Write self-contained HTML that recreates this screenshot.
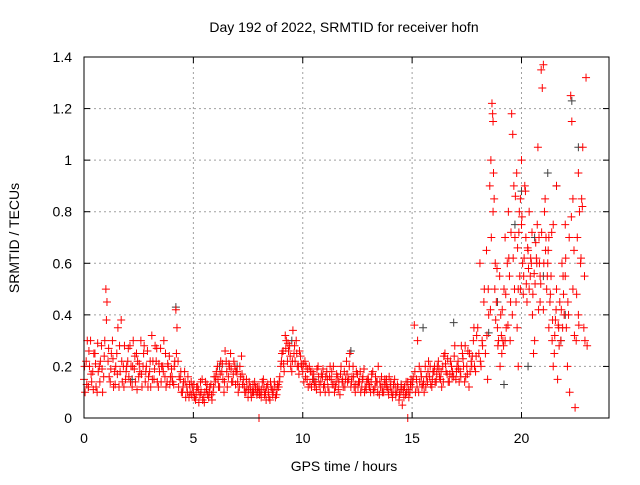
<!DOCTYPE html>
<html><head><meta charset="utf-8"><style>
body{margin:0;background:#fff}
svg{font-family:"Liberation Sans",sans-serif;font-size:14px}
</style></head><body>
<svg id="c" width="640" height="480">
<text x="344" y="32" text-anchor="middle">Day 192 of 2022, SRMTID for receiver hofn</text>
<text x="344" y="471" text-anchor="middle">GPS time / hours</text>
<text transform="translate(19,238) rotate(-90)" text-anchor="middle">SRMTID / TECUs</text>
<g id="grid"></g><g id="ticks"></g><g id="gray"></g><g id="red"></g>
<rect x="84" y="57" width="525" height="361" fill="none" stroke="#000" stroke-width="1"/>
</svg>
<script>
const xTicks=[0,5,10,15,20];
const yTicks=[0,0.2,0.4,0.6,0.8,1,1.2,1.4];
const yTickLabels=["0","0.2","0.4","0.6","0.8","1","1.2","1.4"];
const passA=[.15,.22,.12,.3,.18,.25,.1,.2,.28,.16,.5,.22,.14,.3,.18,.25,.12,.38,.2,.15,.22,.28,.12,.19,.25,.16,.3,.2,.14,.26,.18,.32,.15,.22,.12,.27,.2,.16,.14,.24,.19,.13,.42,.22,.15,.1,.18,.12,.08,.14,.1,.07,.12,.09,.15,.06,.11,.08,.13,.1,.14,.2,.12,.18,.1,.22,.16,.25,.14,.2,.18,.12,.24,.15,.1,.08,.12,.1,.14,.09,.12,.08,.15,.1,.13,.07,.11,.14,.09,.12,.2,.26,.32,.22,.28,.18,.25,.3,.2,.24,.18,.22,.15,.2,.12,.17,.14,.2,.1,.16,.13,.18,.1,.15,.2,.12,.16,.09,.14,.18,.22,.15,.12,.2,.1,.17,.14,.12,.19,.11,.15,.1,.18,.12,.14,.09,.16,.1,.13,.11,.12,.08,.15,.1,.07,.13,.11,.09,.14,.1,.12,.36,.15,.1,.18,.13,.2,.14,.16,.12,.18,.14,.22,.15,.2,.25,.17,.14,.2,.16,.15,.22,.18,.25,.14,.2,.12,.22,.3,.18];
const passB=[.1,.3,.2,.14,.25,.12,.18,.22,.1,.3,.45,.16,.25,.12,.2,.35,.18,.14,.28,.2,.16,.2,.3,.14,.22,.18,.12,.28,.2,.16,.12,.22,.28,.14,.18,.2,.3,.12,.2,.16,.14,.22,.35,.16,.1,.14,.08,.16,.1,.12,.08,.12,.06,.1,.08,.14,.09,.12,.07,.16,.18,.12,.22,.15,.26,.12,.2,.14,.22,.18,.1,.16,.13,.1,.12,.14,.08,.1,.12,.1,.1,.14,.09,.12,.08,.12,.1,.08,.13,.16,.25,.18,.3,.26,.2,.34,.22,.2,.26,.2,.14,.2,.12,.18,.15,.12,.19,.13,.17,.12,.16,.12,.2,.13,.1,.17,.14,.2,.12,.15,.14,.25,.16,.12,.18,.14,.1,.16,.12,.15,.12,.17,.1,.14,.2,.12,.1,.15,.12,.16,.1,.13,.09,.12,.1,.05,.12,.1,.08,.15,.16,.1,.3,.14,.12,.1,.16,.22,.13,.18,.14,.2,.16,.12,.24,.18,.14,.22,.18,.28,.2,.14,.28,.2,.16,.26,.18,.24,.2,.32];
const passC=[.2,.13,.26,.17,.11,.21,.29,.14,.19,.24,.38,.27,.19,.23,.13,.17,.28,.22,.12,.18,.27,.14,.2,.24,.11,.21,.17,.25,.18,.12,.22,.15,.19,.27,.21,.14,.18,.25,.21,.13,.16,.2,.25,.12,.18,.12,.14,.1,.13,.09,.13,.09,.11,.14,.07,.1,.13,.1,.09,.12,.16,.15,.17,.21,.14,.18,.21,.19,.17,.13,.14,.2,.17,.12,.15,.11,.1,.13,.11,.12,.09,.11,.12,.07,.1,.14,.09,.12,.11,.14,.22,.21,.27,.29,.24,.22,.28,.25,.17,.21,.21,.16,.19,.13,.18,.14,.11,.16,.14,.19,.1,.15,.16,.18,.13,.14,.11,.17,.15,.12,.17,.2,.14,.16,.13,.12,.18,.15,.1,.14,.13,.14,.11,.16,.1,.14,.12,.13,.15,.09,.14,.1,.12,.13,.09,.11,.08,.14,.11,.13,.14,.18,.12,.2,.16,.14,.12,.18,.2,.15,.2,.17,.19,.18,.14,.21,.23,.17,.16,.24,.18,.19,.16,.23,.28,.17,.25,.2,.35,.24];
const lateTimes=[18.0,18.1,18.15,18.2,18.3,18.35,18.4,18.5,18.55,18.6,18.65,18.7,18.75,18.8,18.85,18.9,18.95,19.0,19.05,19.1,19.15,19.2,19.25,19.3,19.35,19.4,19.45,19.5,19.55,19.6,19.65,19.7,19.75,19.8,19.85,19.9,19.95,20.0,20.05,20.1,20.15,20.2,20.25,20.3,20.35,20.4,20.45,20.5,20.55,20.6,20.65,20.7,20.75,20.8,20.85,20.9,20.95,21.0,21.05,21.1,21.15,21.2,21.25,21.3,21.35,21.4,21.45,21.5,21.55,21.6,21.65,21.7,21.75,21.8,21.85,21.9,21.95,22.0,22.05,22.1,22.15,22.2,22.25,22.3,22.35,22.4,22.45,22.5,22.55,22.6,22.65,22.7,22.75,22.8,22.85,22.9,22.95,23.0,18.45,18.05,19.85,20.85,21.45,22.0,20.35,21.25,19.25,18.7,21.6,20.0,19.95,21.0,22.35,22.6,8.0,14.8,
18.12,18.22,18.28,18.42,18.48,18.58,18.62,18.68,18.72,18.78,18.82,18.88,18.92,19.02,19.08,19.12,19.18,19.28,19.38,19.42,19.48,19.52,19.58,19.62,19.68,19.72,19.78,19.82,19.88,19.92,20.02,20.08,20.12,20.18,20.22,20.28,20.32,20.42,20.48,20.52,20.58,20.62,20.68,20.72,20.78,20.82,20.88,20.92,21.02,21.08,21.12,21.18,21.22,21.32,21.38,21.42,21.52,21.58,21.68,21.72,21.82,21.88,21.92,22.02,22.12,22.18,22.28,22.42,22.52,22.62,22.72,22.78,22.88];
const lateValues=[.35,.6,.2,.3,.5,.25,.65,.4,.9,1.0,1.22,1.15,.85,.6,.45,.35,.3,.55,.4,.25,.3,.5,.7,.35,.6,.8,.55,.45,1.18,1.1,.9,.7,.45,.35,.5,.8,.85,.75,.6,.55,.9,.7,.45,.65,.5,.55,.6,.4,.25,.3,.68,.6,1.05,.7,.55,1.35,1.28,1.37,.8,.65,.5,.6,.35,.45,.55,.3,.2,.25,.38,.5,.15,.35,.45,.3,.6,.55,.4,.75,.35,.2,.4,.1,1.25,1.15,.5,.65,.04,.3,.7,.95,.8,.6,.85,1.05,.35,.3,1.32,.28,.15,.25,.2,.45,.75,.55,.8,.7,.3,.8,.9,1.0,.5,.42,.85,.4,0,0,
.22,.28,.45,.32,.5,.42,.7,1.18,.95,.5,.38,.58,.28,.2,.32,.42,.28,.48,.36,.62,.3,.72,.4,.62,.5,.86,.95,.66,.72,.55,.78,.48,.62,.88,.52,.66,.58,.62,.72,.48,.56,.52,.62,.75,.42,.6,.52,.72,.6,.85,.7,.55,.65,.48,.72,.38,.32,.42,.36,.28,.42,.35,.48,.62,.45,.7,.78,.32,.48,.36,.62,.82,.55];
const grayTimes=[4.2,6.2,9.5,12.2,15.5,16.9,18.5,19.2,19.7,20.0,20.6,21.2,21.6,22.3,22.6,21.8,20.3,18.9,14.5,2.2,0.2,7.0,10.5,21.0,22.0];
const grayValues=[.43,.2,.3,.26,.35,.37,.33,.13,.75,.88,.7,.95,.9,1.23,1.05,.3,.2,.45,.13,.15,.12,.2,.15,.55,.4];

const X0=84,X1=609,Y0=418,Y1=57;
const xs=v=>X0+v*(X1-X0)/24;
const ys=v=>Y0-v*(Y0-Y1)/1.4;
const NS="http://www.w3.org/2000/svg";
function mk(tag,attrs,parent){const e=document.createElementNS(NS,tag);for(const k in attrs)e.setAttribute(k,attrs[k]);document.getElementById(parent).appendChild(e);return e;}
xTicks.forEach(t=>{
  const x=xs(t);
  if(t>0){const g=mk("line",{x1:x,x2:x,y1:Y1,y2:Y0,stroke:"#a0a0a0","stroke-dasharray":"2,3"},"grid");
  
  }
  mk("line",{x1:x,x2:x,y1:Y0,y2:Y0-6,stroke:"#000"},"ticks");
  mk("line",{x1:x,x2:x,y1:Y1,y2:Y1+6,stroke:"#000"},"ticks");
  const l=mk("text",{x:x,y:Y0+25,"text-anchor":"middle"},"ticks");l.textContent=t;
  
  
});
yTicks.forEach((t,i)=>{
  const y=ys(t);
  if(t>0&&t<1.4){const g=mk("line",{x1:X0,x2:X1,y1:y,y2:y,stroke:"#a0a0a0","stroke-dasharray":"2,3"},"grid");
  
  }
  mk("line",{x1:X0,x2:X0+6,y1:y,y2:y,stroke:"#000"},"ticks");
  mk("line",{x1:X1,x2:X1-6,y1:y,y2:y,stroke:"#000"},"ticks");
  const l=mk("text",{x:X0-12,y:y+5,"text-anchor":"end"},"ticks");l.textContent=yTickLabels[i];
  
  
});
function plus(t,v,col,g){
  const x=xs(t),y=ys(v);
  const p=mk("path",{d:`M${x-4},${y}h8M${x},${y-4}v8`,stroke:col,"stroke-width":1,fill:"none"},g);
  
  
}
passA.forEach((v,i)=>plus(i*0.1,v,"#ff0000","red"));
passB.forEach((v,i)=>plus(i*0.1+0.05,v,"#ff0000","red"));
passC.forEach((v,i)=>plus(i*0.1+0.025,v,"#ff0000","red"));
lateTimes.forEach((t,i)=>plus(t,lateValues[i],"#ff0000","red"));
grayTimes.forEach((t,i)=>plus(t,grayValues[i],"#404040","gray"));
</script>
</body></html>
